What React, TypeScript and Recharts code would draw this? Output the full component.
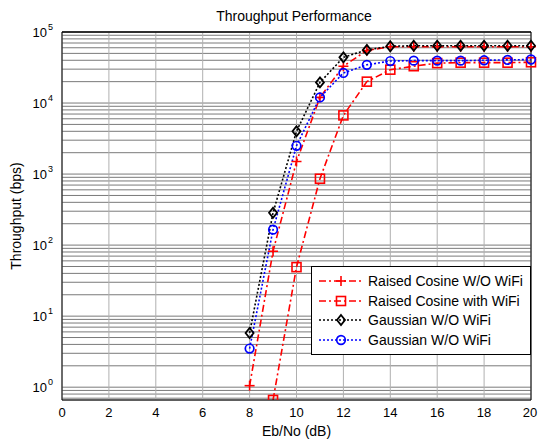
import { LineChart, Line, XAxis, YAxis, CartesianGrid, Legend, ReferenceLine } from 'recharts'

const snr = [8, 9, 10, 11, 12, 13, 14, 15, 16, 17, 18, 19, 20]
const rcNoWifi = [1.05, 82, 1500, 12000, 33000, 55000, 62000, 62000, 62000, 62000, 62000, 62000, 62000]
const rcWifi = [null, 0.66, 49, 860, 6700, 20000, 29500, 33000, 36500, 37000, 37000, 37000, 37500]
const gaussNoWifi = [5.8, 285, 4000, 19500, 44000, 56000, 63000, 64000, 64000, 64000, 64000, 64000, 64000]
const gaussBlue = [3.5, 165, 2500, 12000, 26500, 34500, 39000, 39500, 39500, 39500, 40000, 40500, 41000]

const xTicks = [0, 2, 4, 6, 8, 10, 12, 14, 16, 18, 20]
const decades = [0, 1, 2, 3, 4]
const mantissas = [1, 2, 3, 4, 5, 6, 7, 8, 9]
const belowOne = [0.7, 0.8, 0.9]

const yTicks = [
    ...belowOne,
    ...decades.flatMap(e => mantissas.map(m => m * Math.pow(10, e))),
    100000,
]

const data = snr.map((x, i) => ({
    x,
    rc: rcNoWifi[i],
    rcw: rcWifi[i],
    g: gaussNoWifi[i],
    gb: gaussBlue[i],
}))

const FONT = '"Liberation Sans", Arial, sans-serif'

// marker shapes (matlab style)
function marker(kind: string, color: string, cx: number, cy: number, key?: any) {
    if (cx == null || cy == null || isNaN(cx) || isNaN(cy)) return <g key={key} />
    if (kind === 'plus') {
        return (
            <g key={key}>
                <line x1={cx - 5} y1={cy} x2={cx + 5} y2={cy} stroke={color} strokeWidth={1.6} />
                <line x1={cx} y1={cy - 5} x2={cx} y2={cy + 5} stroke={color} strokeWidth={1.6} />
            </g>
        )
    }
    if (kind === 'square') {
        return <rect key={key} x={cx - 4.5} y={cy - 4.5} width={9} height={9} fill="none" stroke={color} strokeWidth={1.6} />
    }
    if (kind === 'diamond') {
        return <polygon key={key} points={`${cx},${cy - 5} ${cx + 4},${cy} ${cx},${cy + 5} ${cx - 4},${cy}`} fill="none" stroke={color} strokeWidth={1.8} />
    }
    return <circle key={key} cx={cx} cy={cy} r={4.3} fill="none" stroke={color} strokeWidth={1.7} />
}

const series = [
    { key: 'rc', name: 'Raised Cosine W/O WiFi', color: '#ff0000', dash: '7 3 2 3', kind: 'plus' },
    { key: 'rcw', name: 'Raised Cosine with WiFi', color: '#ff0000', dash: '7 3 2 3', kind: 'square' },
    { key: 'g', name: 'Gaussian W/O WiFi', color: '#000000', dash: '2 2', kind: 'diamond' },
    { key: 'gb', name: 'Gaussian W/O WiFi', color: '#0000ff', dash: '2 2', kind: 'circle' },
]

const isPow10 = (v: number) => {
    const l = Math.log10(v)
    return Math.abs(l - Math.round(l)) < 1e-9
}

function YTick(props: any) {
    const { x, y, payload } = props
    const v = payload.value
    if (!isPow10(v)) return <g />
    const e = Math.round(Math.log10(v))
    return (
        <text x={x - 1} y={y + 5} textAnchor="end" fontFamily={FONT} fontSize={13} fill="#000">
            10
            <tspan dx={1} dy={-7} fontSize={9}>{e}</tspan>
        </text>
    )
}

function XTick(props: any) {
    const { x, y, payload } = props
    return (
        <text x={x} y={y + 9} textAnchor="middle" fontFamily={FONT} fontSize={13} fill="#000">
            {payload.value}
        </text>
    )
}

function LegendBox() {
    return (
        <div style={{ border: '1px solid #000', background: '#fff', padding: '4px 0 4px 0', fontFamily: FONT, fontSize: 14 }}>
            {series.map(s => (
                <div key={s.key + s.color} style={{ display: 'flex', alignItems: 'center', height: 19.8 }}>
                    <svg width={54} height={16} style={{ marginLeft: 2, flexShrink: 0 }}>
                        <line x1={5} y1={8} x2={49} y2={8} stroke={s.color} strokeWidth={1.6} strokeDasharray={s.dash} />
                        {marker(s.kind, s.color, 27, 8)}
                    </svg>
                    <span style={{ color: '#000', whiteSpace: 'nowrap' }}>{s.name}</span>
                </div>
            ))}
        </div>
    )
}

export default function App() {
    return (
        <div style={{ position: 'absolute', left: 0, top: 0, width: 538, height: 439, background: '#fff' }}>
            <div style={{ position: 'absolute', left: 0, top: 8, width: 538, textAlign: 'center', fontFamily: FONT, fontSize: 14, paddingLeft: 50, boxSizing: 'border-box' }}>
                Throughput Performance
            </div>
            <LineChart
                width={538}
                height={439}
                data={data}
                margin={{ top: 32, right: 7, bottom: 0, left: 0 }}
            >
                <CartesianGrid stroke="#7a7a7a" vertical={false} />
                <CartesianGrid stroke="#b0b0b0" horizontal={false} />
                <XAxis
                    dataKey="x"
                    type="number"
                    domain={[0, 20]}
                    ticks={xTicks}
                    height={39}
                    tickLine={false}
                    stroke="#000"
                    tick={<XTick />}
                    label={{ value: 'Eb/No (dB)', position: 'insideBottom', offset: 3, fontFamily: FONT, fontSize: 14, fill: '#000' }}
                />
                <YAxis
                    scale="log"
                    domain={[0.66, 100000]}
                    allowDataOverflow
                    ticks={yTicks}
                    interval={0}
                    width={62}
                    tickLine={false}
                    stroke="#000"
                    tick={<YTick />}
                    label={{ value: 'Throughput (bps)', angle: -90, position: 'insideLeft', offset: 16, fontFamily: FONT, fontSize: 14, fill: '#000', style: { textAnchor: 'middle' } }}
                />
                <ReferenceLine y={100000} stroke="#000" strokeWidth={1.5} />
                <ReferenceLine x={20} stroke="#000" strokeWidth={1} />
                {series.map(s => (
                    <Line
                        key={s.key}
                        dataKey={s.key}
                        name={s.name}
                        stroke={s.color}
                        strokeWidth={1.6}
                        strokeDasharray={s.dash}
                        type="linear"
                        connectNulls={false}
                        isAnimationActive={false}
                        dot={(p: any) => marker(s.kind, s.color, p.cx, p.cy, `${s.key}-${p.index}`)}
                        activeDot={false}
                    />
                ))}
                <Legend
                    layout="vertical"
                    align="center"
                    verticalAlign="middle"
                    content={<LegendBox />}
                    wrapperStyle={{ left: 311, top: 266, width: 220 }}
                />
            </LineChart>
        </div>
    )
}
